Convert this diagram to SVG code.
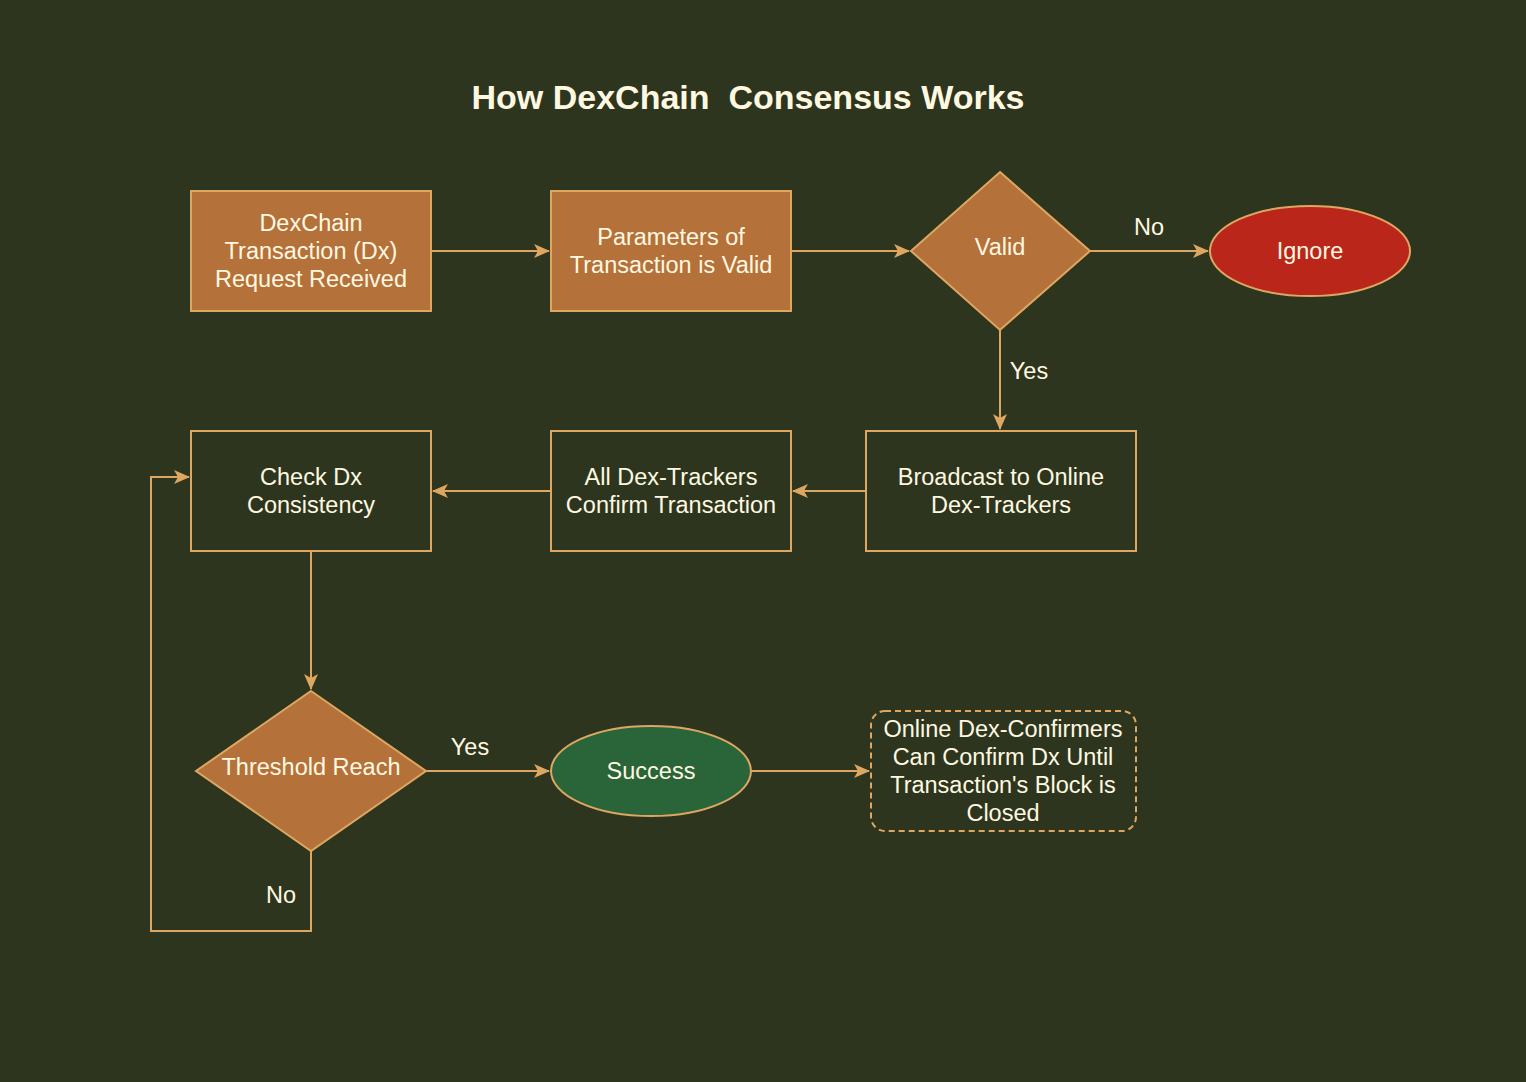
<svg xmlns="http://www.w3.org/2000/svg" width="1526" height="1082" viewBox="0 0 1526 1082">
<defs>
<style>
.t{font-family:"Liberation Sans",Arial,sans-serif;font-size:23.5px;fill:#FFF8E1;text-anchor:middle}
.ttl{font-family:"Liberation Sans",Arial,sans-serif;font-size:34px;font-weight:bold;fill:#FFF8E1;text-anchor:middle;white-space:pre}
.n{stroke:#DDA761;stroke-width:2}
.or{fill:#B5713A}
.dk{fill:#2D351E}
.c{fill:none;stroke:#DDA761;stroke-width:2}
</style>
<marker id="a" markerWidth="16" markerHeight="14" viewBox="0 0 16 14" refX="15" refY="7" orient="auto" markerUnits="userSpaceOnUse">
<path d="M0,0 L16,7 L0,14 L4,7 Z" fill="#DDA761"/>
</marker>
</defs>
<rect width="1526" height="1082" fill="#2D351E"/>
<text class="ttl" x="748" y="109" xml:space="preserve">How DexChain  Consensus Works</text>
<g id="connectors">
<path class="c" d="M431,251 L549,251" marker-end="url(#a)"/>
<path class="c" d="M791,251 L909,251" marker-end="url(#a)"/>
<path class="c" d="M1090,251 L1208,251" marker-end="url(#a)"/>
<path class="c" d="M1000,330 L1000,429" marker-end="url(#a)"/>
<path class="c" d="M866,491 L793,491" marker-end="url(#a)"/>
<path class="c" d="M551,491 L433,491" marker-end="url(#a)"/>
<path class="c" d="M311,551 L311,689" marker-end="url(#a)"/>
<path class="c" d="M426,771 L549,771" marker-end="url(#a)"/>
<path class="c" d="M751,771 L869,771" marker-end="url(#a)"/>
<path class="c" d="M311,851 L311,931 L151,931 L151,477 L189,477" marker-end="url(#a)"/>
<text class="t" x="1149" y="235">No</text>
<text class="t" x="1029" y="379">Yes</text>
<text class="t" x="470" y="755">Yes</text>
<text class="t" x="281" y="903">No</text>
</g>
<g id="n1"><rect class="n or" x="191" y="191" width="240" height="120"/>
<text class="t" x="311" y="231">DexChain</text><text class="t" x="311" y="259">Transaction (Dx)</text><text class="t" x="311" y="287">Request Received</text></g>
<g id="n2"><rect class="n or" x="551" y="191" width="240" height="120"/>
<text class="t" x="671" y="245">Parameters of</text><text class="t" x="671" y="273">Transaction is Valid</text></g>
<g id="n3"><path class="n or" d="M1000,172 L1090,251 L1000,330 L911,251 Z"/>
<text class="t" x="1000" y="255">Valid</text></g>
<g id="n4"><ellipse class="n" fill="#BB261A" cx="1310" cy="251" rx="100" ry="45"/>
<text class="t" x="1310" y="259">Ignore</text></g>
<g id="n5"><rect class="n dk" x="866" y="431" width="270" height="120"/>
<text class="t" x="1001" y="485">Broadcast to Online</text><text class="t" x="1001" y="513">Dex-Trackers</text></g>
<g id="n6"><rect class="n dk" x="551" y="431" width="240" height="120"/>
<text class="t" x="671" y="485">All Dex-Trackers</text><text class="t" x="671" y="513">Confirm Transaction</text></g>
<g id="n7"><rect class="n dk" x="191" y="431" width="240" height="120"/>
<text class="t" x="311" y="485">Check Dx</text><text class="t" x="311" y="513">Consistency</text></g>
<g id="n8"><path class="n or" d="M311,691 L426,771 L311,851 L196,771 Z"/>
<text class="t" x="311" y="775">Threshold Reach</text></g>
<g id="n9"><ellipse class="n" fill="#2A6439" cx="651" cy="771" rx="100" ry="45"/>
<text class="t" x="651" y="779">Success</text></g>
<g id="n10"><rect class="n" fill="none" stroke-dasharray="6,4" x="871" y="711" width="265" height="120" rx="14"/>
<text class="t" x="1003" y="737">Online Dex-Confirmers</text><text class="t" x="1003" y="765">Can Confirm Dx Until</text><text class="t" x="1003" y="793">Transaction's Block is</text><text class="t" x="1003" y="821">Closed</text></g>
</svg>
